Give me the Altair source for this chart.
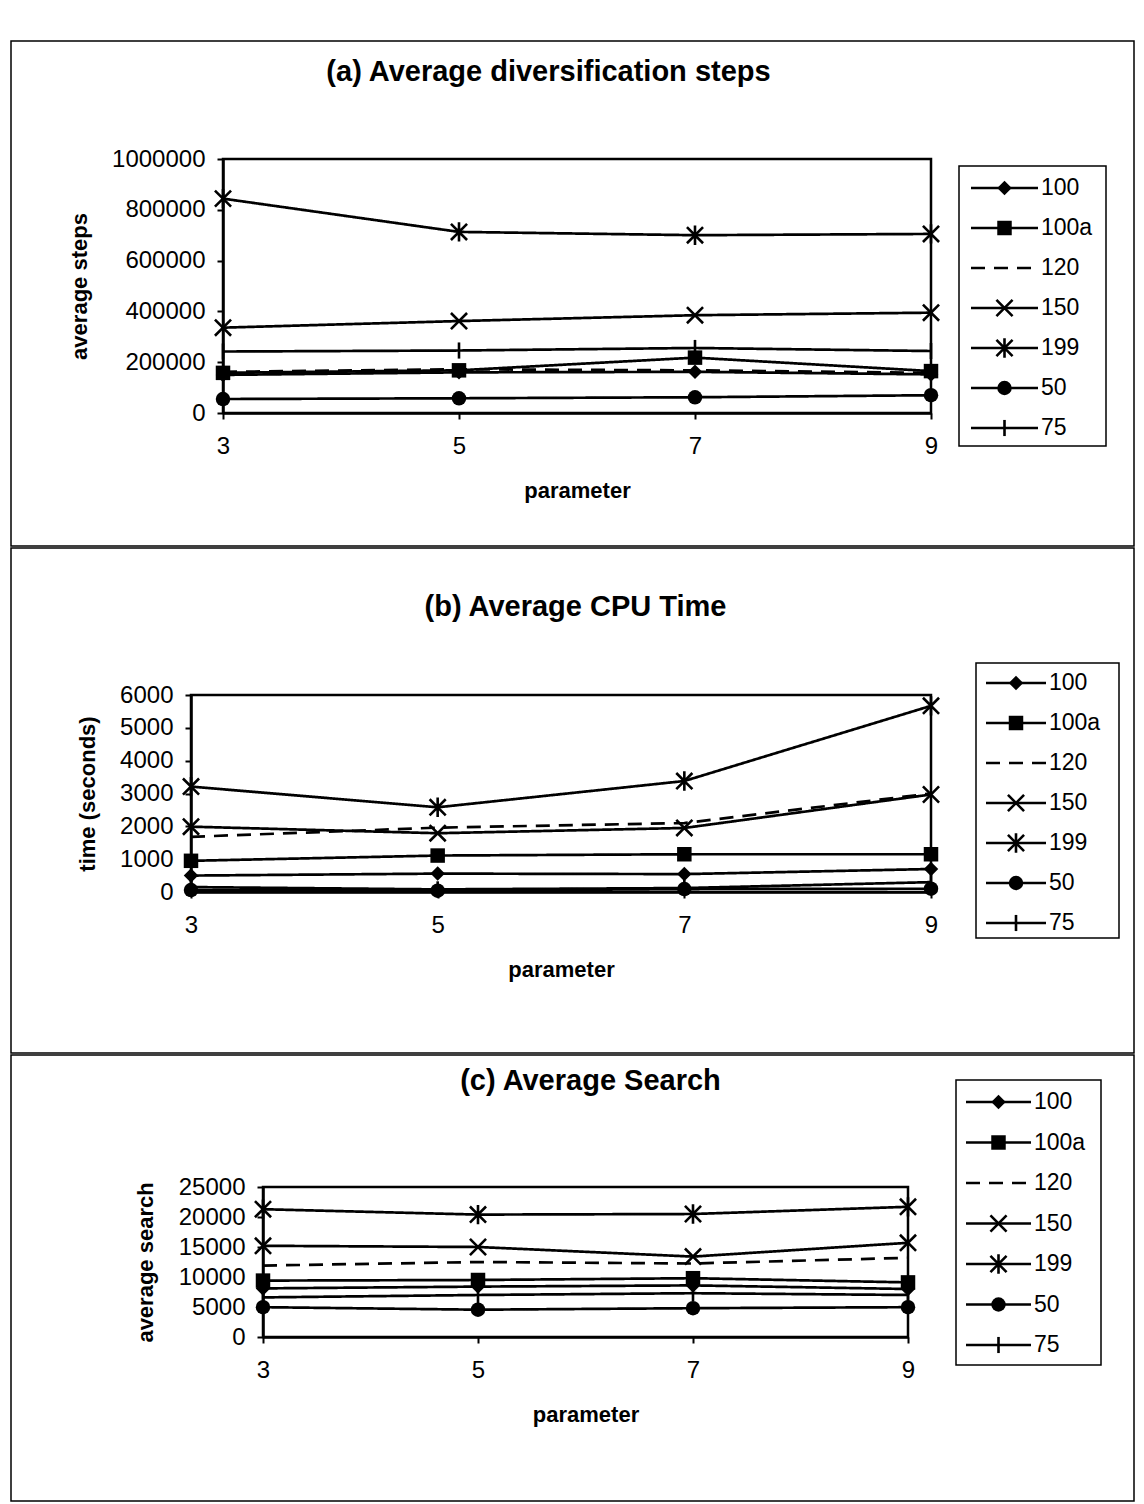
import altair as alt
import pandas as pd

FONT = "Liberation Sans"
PARAMS = [3, 5, 7, 9]
SERIES = ["100", "100a", "120", "150", "199", "50", "75"]

# (a) Average diversification steps
A_100 = [150000, 160000, 162000, 152000]
A_100a = [158000, 168000, 218000, 165000]
A_120 = [162000, 172000, 168000, 158000]
A_150 = [336000, 362000, 385000, 395000]
A_199 = [844000, 713000, 700000, 705000]
A_50 = [55000, 58000, 62000, 70000]
A_75 = [242000, 246000, 256000, 244000]

# (b) Average CPU Time
B_100 = [500, 560, 545, 700]
B_100a = [950, 1110, 1150, 1150]
B_120 = [1680, 1960, 2100, 3000]
B_150 = [1990, 1790, 1950, 2970]
B_199 = [3210, 2580, 3380, 5670]
B_50 = [60, 40, 90, 100]
B_75 = [150, 80, 120, 300]

# (c) Average Search
C_100 = [8100, 8400, 8600, 8000]
C_100a = [9400, 9500, 9800, 9100]
C_120 = [11900, 12500, 12250, 13200]
C_150 = [15200, 15000, 13400, 15700]
C_199 = [21300, 20400, 20500, 21700]
C_50 = [4970, 4550, 4800, 4970]
C_75 = [6600, 7000, 7300, 7000]

A_TICKS = [0, 200000, 400000, 600000, 800000, 1000000]
B_TICKS = [0, 1000, 2000, 3000, 4000, 5000, 6000]
C_TICKS = [0, 5000, 10000, 15000, 20000, 25000]

FILLED = ["100", "100a", "50"]
OPEN = ["150", "199", "75"]
SHAPE_DOMAIN = ["100", "100a", "50", "150", "199", "75"]
SHAPE_RANGE = ["diamond", "square", "circle",
               "M-1,-1L1,1M-1,1L1,-1",
               "M-1,-1L1,1M-1,1L1,-1M0,-1.2L0,1.2",
               "M0,-1L0,1"]
DASH_RANGE = [[1, 0], [1, 0], [14, 9], [1, 0], [1, 0], [1, 0], [1, 0]]


def long_table(cols):
    rows = []
    for s, vals in zip(SERIES, cols):
        for p, v in zip(PARAMS, vals):
            rows.append({"param": p, "value": v, "series": s})
    return pd.DataFrame(rows)


def panel(df, title, ytitle, ticks, sp):
    px0, px1 = sp["px"]
    py_bottom, py_top = sp["py"]
    xscale = alt.Scale(domain=[3, 9], nice=False, zero=False, range=[px0, px1])
    xaxis = alt.Axis(values=PARAMS, format="d", title="parameter", grid=False,
                     offset=-(sp["h"] - py_bottom),
                     labelFont=FONT, labelFontSize=24, labelColor="black",
                     titleFont=FONT, titleFontSize=22, titleFontWeight="bold", titleColor="black",
                     tickSize=6, tickWidth=2, tickColor="black", domainColor="black", domainWidth=2.5,
                     labelPadding=15, titlePadding=22, labelFlush=False)
    yscale = alt.Scale(domain=[ticks[0], ticks[-1]], nice=False, range=[py_bottom, py_top])
    yaxis = alt.Axis(values=ticks, format="d", title=ytitle, grid=False,
                     offset=-px0,
                     labelFont=FONT, labelFontSize=24, labelColor="black",
                     titleFont=FONT, titleFontSize=22, titleFontWeight="bold", titleColor="black",
                     tickSize=6, tickWidth=2, tickColor="black", domainColor="black", domainWidth=2.5,
                     labelPadding=12, titlePadding=sp["ytp"])
    xenc = alt.X("param:Q", scale=xscale, axis=xaxis)
    yenc = alt.Y("value:Q", scale=yscale, axis=yaxis)
    dash = alt.StrokeDash("series:N", scale=alt.Scale(domain=SERIES, range=DASH_RANGE), legend=None)
    shape = alt.Shape("series:N", scale=alt.Scale(domain=SHAPE_DOMAIN, range=SHAPE_RANGE), legend=None)

    # plot-area frame, drawn through the data scales
    fr = pd.DataFrame({"param": [PARAMS[0]], "x1": [PARAMS[-1]], "value": [ticks[0]], "y1": [ticks[-1]]})
    plot_frame = alt.Chart(fr).mark_rect(fill="transparent", stroke="black", strokeWidth=2.5).encode(
        x=xenc, x2="x1:Q", y=yenc, y2="y1:Q")

    base = alt.Chart(df)
    lines = base.mark_line(color="black", strokeWidth=2.7).encode(x=xenc, y=yenc, strokeDash=dash)
    pf = base.transform_filter(alt.FieldOneOfPredicate(field="series", oneOf=FILLED)).mark_point(
        filled=True, color="black", opacity=1, size=210).encode(x=xenc, y=yenc, shape=shape)
    po = base.transform_filter(alt.FieldOneOfPredicate(field="series", oneOf=OPEN)).mark_point(
        filled=False, color="black", opacity=1, size=260, strokeWidth=2.6).encode(x=xenc, y=yenc, shape=shape)
    plot = alt.layer(plot_frame, lines, pf, po)

    leg = pd.DataFrame({"series": SERIES, "a": 0.0, "b": 1.0, "m": 0.5})
    lx = alt.Scale(domain=[0, 1], range=[sp["lx"][0], sp["lx"][1]])
    ly = alt.Scale(type="point", domain=SERIES, range=[sp["ly"][0], sp["ly"][1]], padding=0)
    one = pd.DataFrame({"k": [0]})
    lb0, lb1, lb2, lb3 = sp["lbox"]
    lbox = alt.Chart(one).mark_rect(fill="white", stroke="black", strokeWidth=1.5).encode(
        x=alt.value(lb0), x2=alt.value(lb1), y=alt.value(lb2), y2=alt.value(lb3))
    lbase = alt.Chart(leg)
    ley = alt.Y("series:N", scale=ly, axis=None)
    lrule = lbase.mark_rule(color="black", strokeWidth=2.5).encode(
        x=alt.X("a:Q", scale=lx, axis=None), x2="b:Q", y=ley, strokeDash=dash)
    lpf = lbase.transform_filter(alt.FieldOneOfPredicate(field="series", oneOf=FILLED)).mark_point(
        filled=True, color="black", opacity=1, size=210).encode(
        x=alt.X("m:Q", scale=lx, axis=None), y=ley, shape=shape)
    lpo = lbase.transform_filter(alt.FieldOneOfPredicate(field="series", oneOf=OPEN)).mark_point(
        filled=False, color="black", opacity=1, size=260, strokeWidth=2.6).encode(
        x=alt.X("m:Q", scale=lx, axis=None), y=ley, shape=shape)
    ltext = lbase.mark_text(align="left", baseline="middle", font=FONT, fontSize=23, dx=3, color="black").encode(
        x=alt.X("b:Q", scale=lx, axis=None), y=ley, text="series:N")
    legend = alt.layer(lbox, lrule, lpf, lpo, ltext)

    return alt.layer(plot, legend).resolve_scale(x="independent", y="independent").properties(
        width=sp["w"], height=sp["h"],
        title=alt.TitleParams(text=title, font=FONT, fontSize=29, fontWeight="bold", color="black",
                              anchor="middle", frame="group", dx=sp["dx"], offset=sp["toff"]))


# positions inside each panel box (box origin = top-left corner of the panel)
SPEC_A = {"w": 1123, "h": 505, "px": [212, 920], "py": [372, 118],
          "lbox": [948, 1095, 125, 405], "lx": [960, 1027], "ly": [147, 387],
          "dx": -24, "toff": -46, "ytp": 20}
SPEC_B = {"w": 1123, "h": 505, "px": [180, 920], "py": [344, 147],
          "lbox": [965, 1108, 115, 390], "lx": [975, 1035], "ly": [135, 375],
          "dx": 3, "toff": -74, "ytp": 20}
SPEC_C = {"w": 1123, "h": 446, "px": [252, 897], "py": [282, 132],
          "lbox": [945, 1090, 25, 310], "lx": [955, 1020], "ly": [47, 290],
          "dx": 18, "toff": -41, "ytp": 21}

pa = panel(long_table([A_100, A_100a, A_120, A_150, A_199, A_50, A_75]),
           "(a)  Average diversification steps", "average steps", A_TICKS, SPEC_A)
pb = panel(long_table([B_100, B_100a, B_120, B_150, B_199, B_50, B_75]),
           "(b)  Average CPU Time", "time (seconds)", B_TICKS, SPEC_B)
pc = panel(long_table([C_100, C_100a, C_120, C_150, C_199, C_50, C_75]),
           "(c) Average Search", "average  search", C_TICKS, SPEC_C)

chart = alt.vconcat(pa, pb, pc, spacing=0).properties(
    padding={"left": 2, "top": 32, "right": 0, "bottom": 0},
    background="white",
).configure_view(stroke="black", strokeWidth=1.5)

chart.save("out.html", embed_options={"renderer": "svg", "actions": False})
